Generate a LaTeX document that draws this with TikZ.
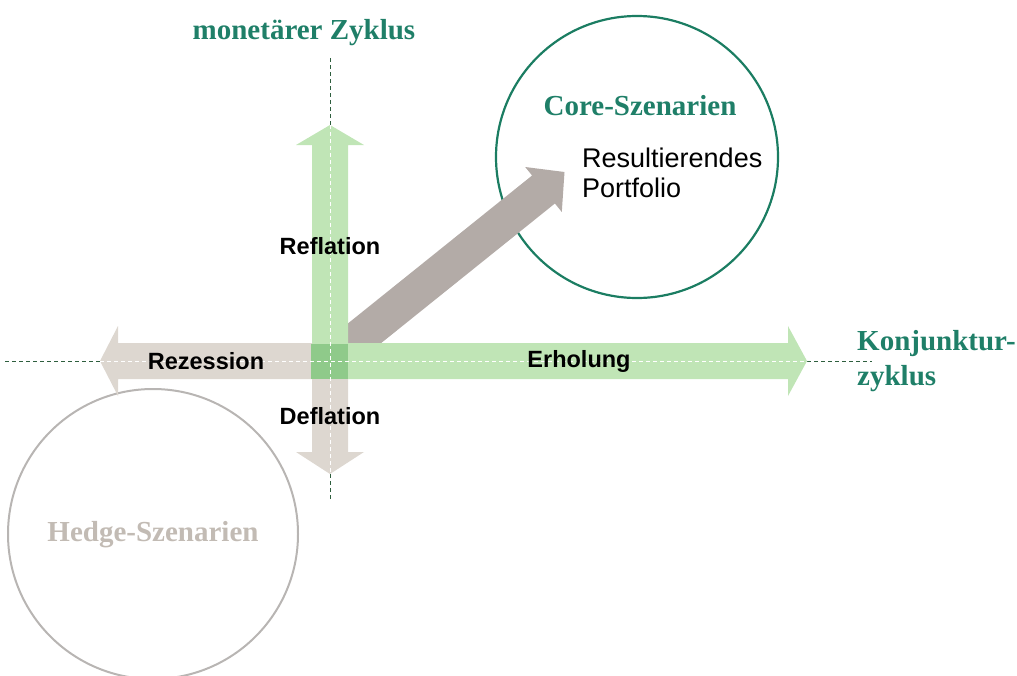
\documentclass[tikz,border=0pt]{standalone}
\usepackage{fontspec}
\setmainfont{Liberation Serif}
\setsansfont{Liberation Sans}
\definecolor{tealtxt}{HTML}{1F7F68}
\definecolor{tealcirc}{HTML}{1B7D62}
\definecolor{grn}{HTML}{C0E5B6}
\definecolor{grnsq}{HTML}{8FCA8A}
\definecolor{beige}{HTML}{DDD7D0}
\definecolor{diag}{HTML}{B3ABA7}
\definecolor{hedgec}{HTML}{B8B5B3}
\definecolor{hedgetxt}{HTML}{C2BBB4}
\definecolor{dashc}{HTML}{2E5E3E}
\begin{document}
\begin{tikzpicture}[x=1pt,y=-1pt,
  ttl/.style={font=\fontsize{29}{33}\selectfont\bfseries\rmfamily, text=tealtxt, inner sep=0pt},
  lbl/.style={font=\fontsize{23.5}{27}\selectfont\bfseries\sffamily, text=black, inner sep=0pt},
  darkdash/.style={draw=dashc, line width=0.9pt, dash pattern=on 4pt off 3pt},
  whitedash/.style={draw=white, line width=0.9pt, dash pattern=on 4pt off 3pt}]
\useasboundingbox (0,0) rectangle (1017,675);
% circles
\node[circle, draw=tealcirc, line width=2.2pt, minimum size=282pt, inner sep=0pt] (core) at (637,157) {};
\node[circle, draw=hedgec, line width=2pt, minimum size=290pt, inner sep=0pt] (hedge) at (153,534) {};
% diagonal arrow
\fill[diag] (341.4,375.0) -- (554.9,203.5) -- (561.8,212.0) -- (564.5,172.0) -- (525.2,167.0) -- (532.1,175.5) -- (318.6,347.0) -- cycle;
% left arrow (beige)
\fill[beige] (312,343) -- (118,343) -- (118,326) -- (100,361) -- (118,396) -- (118,379) -- (312,379) -- cycle;
% down arrow (beige)
\fill[beige] (312,379) -- (312,452) -- (296,452) -- (330,474) -- (364,452) -- (348,452) -- (348,379) -- cycle;
% up arrow (green)
\fill[grn] (312,345) -- (312,145) -- (296,145) -- (330,125) -- (364,145) -- (348,145) -- (348,345) -- cycle;
% right arrow (green)
\fill[grn] (348,343) -- (788,343) -- (788,326) -- (807,361) -- (788,396) -- (788,379) -- (348,379) -- cycle;
% centre square
\fill[grnsq] (311,344) rectangle (348,379);
% dashed axes
\coordinate (hl) at (5,361);
\coordinate (hla) at (100,361);
\coordinate (hra) at (807,361);
\coordinate (hr) at (872,361);
\coordinate (vt) at (330,58);
\coordinate (vta) at (330,125);
\coordinate (vba) at (330,474);
\coordinate (vb) at (330,500);
\draw[darkdash] (hl) -- (hla);
\draw[darkdash] (hra) -- (hr);
\draw[darkdash] (vt) -- (vta);
\draw[darkdash] (vba) -- (vb);
\draw[whitedash] (hla) -- (hra);
\draw[whitedash] (vta) -- (vba);
% texts
\node[ttl] (mz) at (304,33) {monetärer Zyklus};
\node[ttl] (cs) at (640,106) {Core-Szenarien};
\node[ttl, anchor=west, align=left, font=\fontsize{29}{35}\selectfont\bfseries\rmfamily] (kz) at (857,361) {Konjunktur-\\zyklus};
\node[ttl, text=hedgetxt] (hs) at (153,535) {Hedge-Szenarien};
\node[font=\fontsize{27}{30}\selectfont\sffamily, anchor=north west, align=left, inner sep=0pt] (rp) at (582,148) {Resultierendes\\Portfolio};
\node[lbl] (refl) at (330,246) {Reflation};
\node[lbl] (defl) at (330,416) {Deflation};
\node[lbl] (rez) at (206,361) {Rezession};
\node[lbl] (erh) at (579,361) {Erholung};
\end{tikzpicture}
\end{document}
